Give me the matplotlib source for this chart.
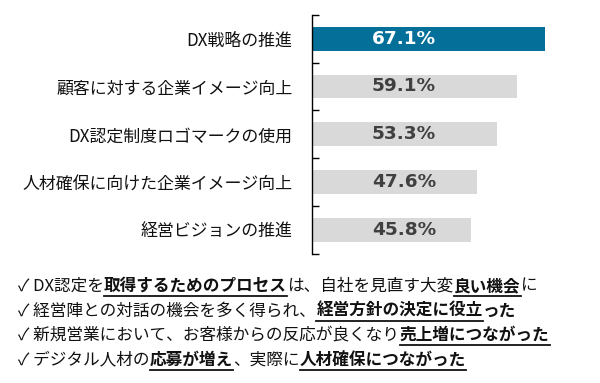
import matplotlib
matplotlib.use("Agg")
import matplotlib.pyplot as plt
from matplotlib.font_manager import FontProperties, findfont, get_font

plt.rcParams["font.family"] = ["Noto Sans CJK JP", "DejaVu Sans"]

# Données
categories = [
    "DX戦略の推進",
    "顧客に対する企業イメージ向上",
    "DX認定制度ロゴマークの使用",
    "人材確保に向けた企業イメージ向上",
    "経営ビジョンの推進",
]
values = [67.1, 59.1, 53.3, 47.6, 45.8]
bar_colors = ["#04709A", "#D9D9D9", "#D9D9D9", "#D9D9D9", "#D9D9D9"]
label_colors = ["white", "#404040", "#404040", "#404040", "#404040"]

# Commentaires : (texte, gras, souligné)
comments = [
    [("✓ DX認定を", False, False), ("取得するためのプロセス", True, True),
     ("は、自社を見直す大変", False, False), ("良い機会", True, True),
     ("に", False, False)],
    [("✓ 経営陣との対話の機会を多く得られ、", False, False),
     ("経営方針の決定に役立", True, True), ("った", True, False)],
    [("✓ 新規営業において、お客様からの反応が良くなり", False, False),
     ("売上増につながった", True, True)],
    [("✓ デジタル人材の", False, False), ("応募が増え", True, True),
     ("、実際に", False, False), ("人材確保につながった", True, True)],
]

fig = plt.figure(figsize=(6, 3.83), dpi=100)
ax = fig.add_axes([0.52, 0.3368, 0.4627, 0.6248])

y = list(range(len(categories)))
ax.barh(y, values, height=0.5, color=bar_colors)

for i, v in enumerate(values):
    ax.text(26.5, i, f"{v:.1f}%", ha="center", va="center",
            fontsize=13.3, fontweight="bold", color=label_colors[i],
            family=["DejaVu Sans"])

ax.set_xlim(0, 80)
ax.set_ylim(4.5, -0.5)
ax.set_yticks(y)
ax.set_yticklabels(categories, fontsize=12.2, color="#111111")
ax.set_yticks([i - 0.5 for i in range(len(categories) + 1)], minor=True)
ax.tick_params(axis="y", which="major", length=0, pad=14)
ax.tick_params(axis="y", which="minor", direction="in", length=5, width=1)
ax.set_xticks([])
for s in ["top", "right", "bottom"]:
    ax.spines[s].set_visible(False)
ax.spines["left"].set_linewidth(1)


# Largeur d'avance d'un texte (en pixels)
fsize = 12


def advance(txt, bold):
    res = 0.0
    for c in txt:
        for fam in ["Noto Sans CJK JP", "DejaVu Sans"]:
            fp = FontProperties(family=fam, weight="bold" if bold else "normal")
            font = get_font(findfont(fp, fallback_to_default=False))
            if font.get_char_index(ord(c)) == 0:
                continue
            font.set_size(fsize, 100)
            g = font.load_char(ord(c))
            res += g.linearHoriAdvance / 65536
            break
    return res


# Texte du bas, morceau par morceau
line_y = [286, 311, 335, 360]
for line, yy in zip(comments, line_y):
    x = 18
    for txt, bold, under in line:
        w = advance(txt, bold)
        fig.text(x / 600, 1 - yy / 383, txt, fontsize=fsize,
                 fontweight="bold" if bold else "normal",
                 va="center", ha="left", color="#111111")
        if under:
            uy = 1 - (yy + 10) / 383
            fig.add_artist(plt.Line2D([x / 600, (x + w) / 600], [uy, uy],
                                      transform=fig.transFigure,
                                      color="#111111", linewidth=1.3))
        x += w

fig.savefig("out.png", dpi=100)
